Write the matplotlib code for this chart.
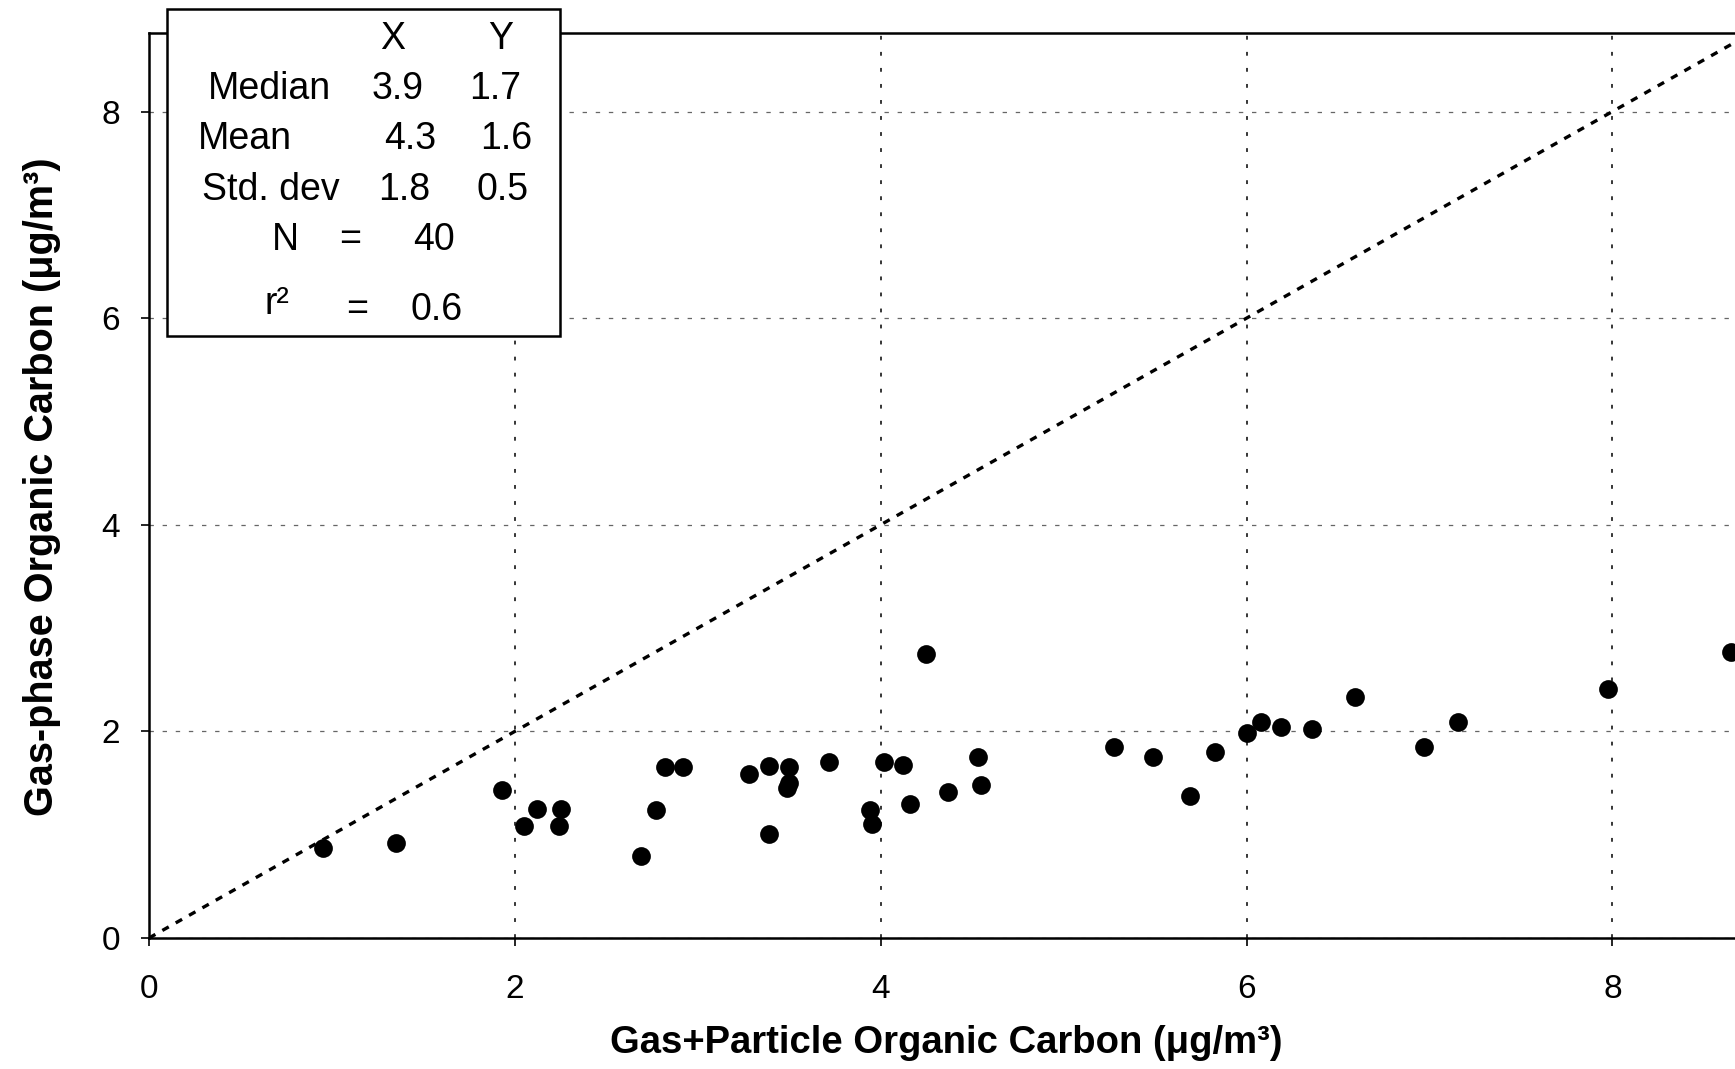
import matplotlib
matplotlib.use("Agg")
import matplotlib.pyplot as plt
from matplotlib.patches import Rectangle

# ---- data ----
gas_particle_oc = [0.95, 1.35, 1.93, 2.05, 2.12, 2.25, 2.24, 2.69, 2.77, 2.82,
                   2.92, 3.28, 3.39, 3.39, 3.50, 3.485, 3.50, 3.72, 3.94, 3.95,
                   4.02, 4.12, 4.16, 4.25, 4.37, 4.53, 4.55, 5.275, 5.49, 5.69,
                   5.83, 6.005, 6.08, 6.19, 6.36, 6.59, 6.97, 7.155, 7.976, 8.65]
gas_phase_oc = [0.87, 0.92, 1.43, 1.08, 1.245, 1.245, 1.08, 0.79, 1.24, 1.66,
                1.66, 1.585, 1.665, 1.005, 1.66, 1.45, 1.50, 1.705, 1.24, 1.10,
                1.70, 1.675, 1.30, 2.75, 1.415, 1.75, 1.48, 1.85, 1.755, 1.375,
                1.80, 1.98, 2.095, 2.04, 2.02, 2.33, 1.85, 2.09, 2.41, 2.77]
x_ticks = [0, 2, 4, 6, 8]
y_ticks = [0, 2, 4, 6, 8]
x_label = "Gas+Particle Organic Carbon (\u03bcg/m\u00b3)"
y_label = "Gas-phase Organic Carbon (\u03bcg/m\u00b3)"
stat_cols = ["X", "Y"]
stat_names = ["Median", "Mean", "Std. dev"]
stat_x = ["3.9", "4.3", "1.8"]
stat_y = ["1.7", "1.6", "0.5"]
n_obs = "40"
r_squared = "0.6"

NARROW = ["Liberation Sans Narrow", "Liberation Sans", "DejaVu Sans"]
REG = ["Liberation Sans", "DejaVu Sans"]

W, H = 1735, 1069
fig = plt.figure(figsize=(W / 100, H / 100), dpi=100)
fig.patch.set_facecolor("white")

def fx(px):
    return px / W

def fy(py):
    return 1 - py / H

ax = fig.add_axes([fx(149), fy(938), fx(1735) - fx(149), fy(33) - fy(938)])
ax.set_xlim(0, 8.67)
ax.set_ylim(0, 8.76)

ax.xaxis.grid(True, color="black", lw=1.1, linestyle=(0, (2.5, 8)))
ax.yaxis.grid(True, color="0.4", lw=0.9, linestyle=(0, (3.5, 7)))
ax.set_axisbelow(True)

ax.axline((0, 0), slope=1, color="black", lw=2.4, linestyle=(0, (2.2, 2.4)), zorder=2)
ax.plot(gas_particle_oc, gas_phase_oc, "o", color="black", markersize=13.5,
        markeredgewidth=0, zorder=3)

ax.set_xticks(x_ticks)
ax.set_yticks(y_ticks)
for sp in ["left", "bottom", "top"]:
    ax.spines[sp].set_linewidth(1.8)
ax.spines["right"].set_visible(False)
ax.tick_params(axis="both", direction="out", length=6, width=1.2)
ax.tick_params(axis="x", pad=20)
ax.tick_params(axis="y", pad=15)
for lab in ax.get_xticklabels() + ax.get_yticklabels():
    lab.set_fontfamily(NARROW)
    lab.set_fontsize(24)

fig.text(fx(946), fy(1043), x_label, ha="center", va="center",
         fontsize=27.5, fontweight="bold", family=NARROW)
fig.text(fx(42), fy(487), y_label, ha="center", va="center", rotation=90,
         fontsize=28.5, fontweight="bold", family=NARROW)

# ---- statistics box ----
box = Rectangle((fx(167), fy(336)), fx(560) - fx(167), fy(9) - fy(336),
                transform=fig.transFigure, facecolor="white", edgecolor="black",
                lw=1.8, zorder=5)
fig.add_artist(box)

def t(x, y, s, ha="center", size=27):
    fig.text(fx(x), fy(y), s, ha=ha, va="center", fontsize=size, family=REG,
             zorder=6)

t(393, 39, stat_cols[0])
t(501, 39, stat_cols[1])
name_x = [269, 245, 271]
vx_x = [398, 410, 404]
vy_x = [495, 506, 503]
row_y = [89, 139, 190]
for i in range(3):
    t(name_x[i], row_y[i], stat_names[i])
    t(vx_x[i], row_y[i], stat_x[i])
    t(vy_x[i], row_y[i], stat_y[i])
t(285, 240, "N")
t(350, 240, "=")
t(434, 240, n_obs)
t(277, 304, "r\u00b2")
t(357, 310, "=")
t(437, 310, r_squared)

fig.savefig("out.png", dpi=100, facecolor="white")
